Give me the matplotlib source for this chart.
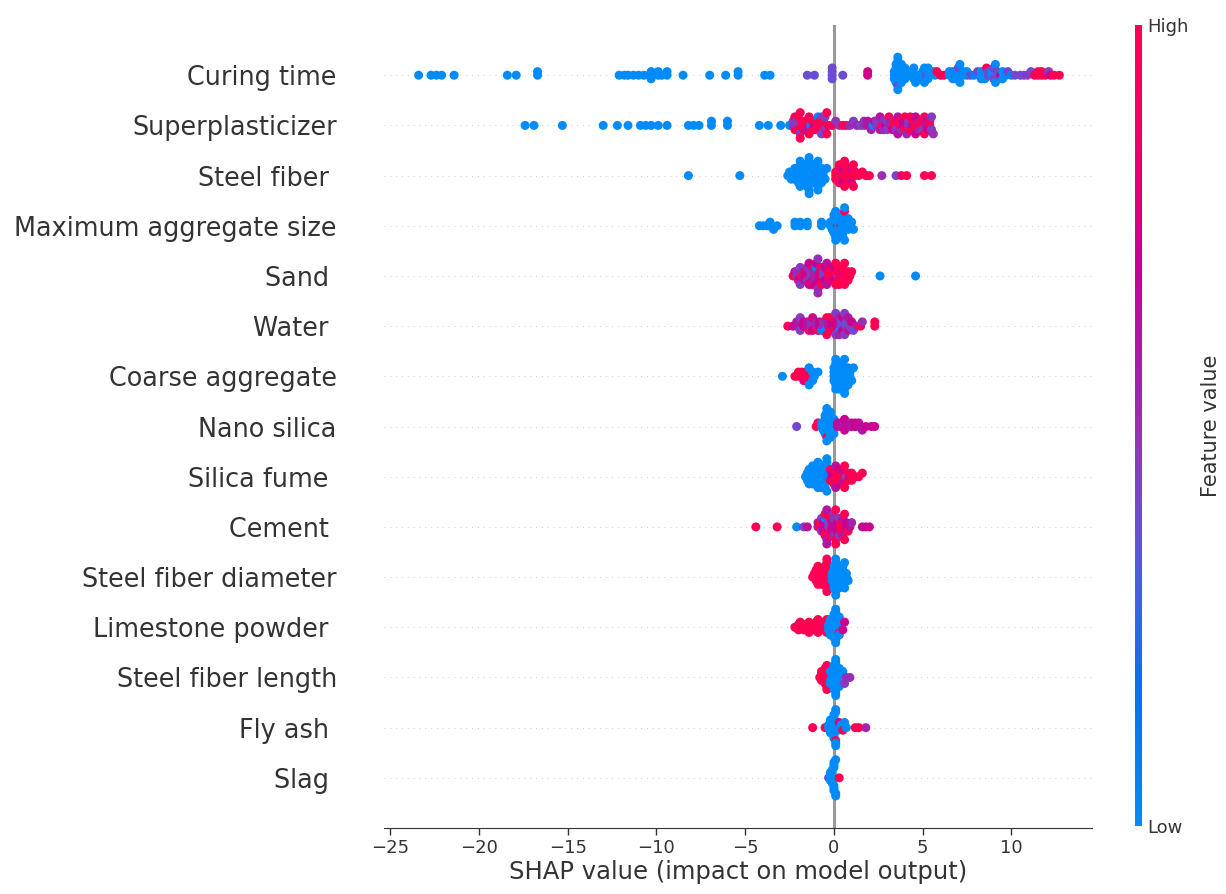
import matplotlib
matplotlib.use("Agg")
import matplotlib.pyplot as plt
import numpy as np
from matplotlib.colors import LinearSegmentedColormap

features = ["Curing time", "Superplasticizer", "Steel fiber ", "Maximum aggregate size",
            "Sand ", "Water ", "Coarse aggregate", "Nano silica", "Silica fume ", "Cement ",
            "Steel fiber diameter", "Limestone powder ", "Steel fiber length", "Fly ash ", "Slag "]

# each entry: (SHAP value, feature value 0=low..1=high, number of samples at that spot)
curing_time = [
    (-23.4, 0, 1), (-22.7, 0, 1), (-22.4, 0, 1), (-22.1, 0, 1), (-21.4, 0, 1),
    (-18.4, 0, 1), (-17.9, 0, 1), (-16.7, 0, 2),
    (-12.1, 0, 1), (-11.8, 0, 1), (-11.6, 0, 1), (-11.3, 0, 1), (-11.0, 0, 1), (-10.7, 0, 1),
    (-10.3, 0, 3), (-9.9, 0, 2), (-9.7, 0, 1), (-9.4, 0, 2), (-8.5, 0, 1),
    (-7.0, 0, 1), (-6.1, 0, 1), (-5.4, 0, 2), (-3.9, 0, 1), (-3.6, 0, 1),
    (-1.5, 0.38, 1), (-1.1, 0.38, 1), (-0.1, 0.38, 4), (0.5, 0.38, 1), (1.9, 0.72, 2),
    (3.4, 0, 3), (3.5, 0, 3), (3.6, 0.38, 1), (3.6, 0, 3), (3.7, 0.38, 1), (3.7, 0, 2),
    (3.8, 0, 3), (3.9, 0, 2), (4.0, 0, 2), (4.3, 0, 2), (4.4, 0, 2), (4.5, 0, 2), (4.6, 0, 1),
    (4.8, 0, 1), (5.0, 0, 3), (5.1, 0, 2), (5.2, 0.38, 1), (5.3, 0, 3), (5.4, 0, 1),
    (5.6, 0, 1), (5.7, 0, 1), (5.8, 1, 1), (6.0, 1, 1), (6.2, 1, 1),
    (6.5, 0, 2), (6.7, 0, 3), (6.9, 0, 3), (7.0, 0.38, 1), (7.1, 0, 2), (7.3, 0, 2), (7.5, 0, 2),
    (7.7, 0.4, 1), (7.9, 0.05, 1), (8.1, 0.4, 1),
    (8.3, 0, 3), (8.5, 0, 3), (8.6, 1, 1), (8.7, 0.4, 2), (8.9, 0, 2), (9.0, 0.4, 2), (9.1, 0, 2),
    (9.2, 0.4, 2), (9.4, 0.7, 1), (9.5, 0, 2), (9.7, 0, 1), (9.8, 0.4, 1), (10.0, 0.05, 1),
    (10.2, 0.4, 1), (10.5, 0.4, 1), (10.7, 0.4, 1), (10.9, 0.45, 1), (11.1, 0.4, 1), (11.3, 0.95, 1),
    (11.5, 1, 2), (11.7, 1, 2), (11.9, 1, 1), (12.1, 0.45, 1), (12.2, 0.75, 1), (12.4, 1, 1), (12.7, 1, 1),
]
superplasticizer = [
    (-17.4, 0, 1), (-16.9, 0, 1), (-15.3, 0, 1), (-13.0, 0, 1), (-12.2, 0, 1), (-11.6, 0, 1),
    (-10.9, 0, 1), (-10.6, 0, 1), (-10.3, 0, 1), (-9.9, 0, 1), (-9.4, 0, 1),
    (-8.2, 0, 1), (-7.9, 0, 1), (-7.6, 0, 1), (-6.9, 0, 2), (-6.0, 0, 2),
    (-4.2, 0, 1), (-3.7, 0, 1), (-3.0, 0, 1), (-2.5, 0, 1),
    (-2.3, 0.45, 2), (-2.2, 1, 2), (-2.1, 0.45, 2), (-2.0, 1, 2), (-1.9, 0.4, 1), (-1.9, 1, 2),
    (-1.8, 1, 2), (-1.7, 0.9, 1), (-1.6, 1, 2), (-1.5, 0.6, 1), (-1.4, 1, 2), (-1.3, 0.05, 1),
    (-1.2, 1, 2), (-1.1, 0.7, 1), (-1.0, 1, 2), (-0.9, 0.05, 1), (-0.8, 1, 3), (-0.7, 0.4, 2),
    (-0.6, 1, 2), (-0.5, 0.45, 2), (-0.4, 1, 2), (-0.3, 0.9, 1), (-0.1, 1, 1),
    (0.1, 0.5, 1), (0.3, 0.45, 1), (0.5, 1, 1), (0.7, 1, 1), (0.9, 0.5, 1), (1.1, 0.45, 1),
    (1.3, 0.55, 1), (1.5, 0.4, 1), (1.7, 0.5, 2),
    (1.9, 0.6, 2), (2.1, 0.55, 1), (2.2, 0.05, 1), (2.3, 0.7, 1), (2.4, 0.45, 2), (2.6, 0.6, 2),
    (2.7, 1, 1), (2.8, 0.5, 2), (2.9, 0.7, 1), (3.0, 0.45, 2), (3.1, 1, 1), (3.2, 0.55, 2),
    (3.3, 0.7, 1), (3.4, 1, 2), (3.5, 0.45, 1), (3.6, 0.6, 2), (3.7, 1, 2), (3.8, 0.5, 1),
    (3.9, 0.7, 2), (4.0, 1, 2), (4.1, 0.55, 1), (4.2, 0.45, 2), (4.3, 1, 2), (4.4, 0.6, 1),
    (4.5, 1, 2), (4.6, 0.7, 2), (4.7, 1, 1), (4.8, 0.55, 2), (4.9, 1, 2), (5.0, 0.45, 1),
    (5.1, 1, 2), (5.2, 0.6, 2), (5.3, 0.7, 1), (5.4, 1, 2), (5.5, 0.45, 2), (5.6, 0.5, 1),
]
steel_fiber = [
    (-8.2, 0, 1), (-5.3, 0, 1),
    (-2.6, 0, 1), (-2.5, 0, 1), (-2.4, 0, 1), (-2.3, 0, 2), (-2.2, 0, 2), (-2.1, 0, 2),
    (-2.0, 0, 3), (-1.9, 0, 3), (-1.8, 0, 3), (-1.7, 0, 3), (-1.6, 0, 4), (-1.5, 0, 3),
    (-1.4, 0, 4), (-1.3, 0, 3), (-1.2, 0, 3), (-1.1, 0, 3), (-1.0, 0, 3), (-0.9, 0, 3),
    (-0.8, 0.35, 1), (-0.8, 0, 2), (-0.7, 0, 2), (-0.6, 0, 2), (-0.5, 0, 1), (-0.4, 0, 1),
    (0.1, 1, 3), (0.2, 1, 3), (0.3, 1, 3), (0.4, 0.4, 1), (0.4, 1, 2), (0.5, 0.7, 2),
    (0.6, 1, 3), (0.7, 1, 2), (0.8, 1, 3), (0.9, 1, 3), (1.0, 0.8, 2), (1.1, 1, 2),
    (1.2, 1, 2), (1.4, 1, 1), (1.6, 1, 1), (1.8, 1, 1), (2.0, 1, 1),
    (2.7, 0.5, 1), (3.5, 0.42, 1), (3.8, 0.9, 1), (4.1, 1, 1), (5.1, 1, 1), (5.5, 1, 1),
]
max_aggregate_size = [
    (-4.2, 0, 1), (-4.0, 0, 1), (-3.8, 0, 1), (-3.6, 0, 2), (-3.4, 0, 1), (-3.2, 0, 1),
    (-2.2, 0, 2), (-1.9, 0, 2), (-1.5, 0, 2), (-0.7, 0, 2),
    (-0.2, 0, 2), (-0.1, 0, 3), (0.0, 0, 3), (0.1, 0, 3), (0.2, 1, 1), (0.2, 0, 3),
    (0.3, 0, 3), (0.4, 1, 1), (0.4, 0, 3), (0.5, 0, 3), (0.6, 1, 1), (0.6, 0, 2),
    (0.7, 0, 2), (0.8, 0, 2), (0.9, 0, 1), (1.0, 0, 1), (1.1, 0, 1),
]
sand = [
    (-2.3, 1, 1), (-2.2, 0.75, 1), (-2.1, 0.5, 2), (-2.0, 0.7, 1), (-1.9, 0.45, 2), (-1.8, 1, 1),
    (-1.7, 0.6, 2), (-1.6, 0.75, 2), (-1.5, 0.5, 2), (-1.4, 0.7, 2), (-1.3, 0.45, 2),
    (-1.2, 0.8, 3), (-1.1, 0.55, 3), (-1.0, 0.05, 1), (-1.0, 0.7, 2), (-0.9, 0.5, 3),
    (-0.8, 0.75, 3), (-0.7, 1, 2), (-0.6, 0.45, 2), (-0.5, 0.7, 2), (-0.4, 0.6, 2),
    (-0.3, 1, 2), (-0.2, 0.8, 2), (-0.1, 1, 2), (0.0, 0.7, 2), (0.1, 1, 2), (0.2, 0.4, 1),
    (0.2, 1, 2), (0.3, 1, 2), (0.4, 0.9, 2), (0.5, 1, 2), (0.6, 1, 2), (0.7, 0.95, 1),
    (0.8, 1, 2), (0.9, 1, 1), (1.0, 1, 1),
    (2.6, 0, 1), (4.6, 0, 1),
]
water = [
    (-2.6, 1, 1), (-2.3, 0.7, 1), (-2.1, 0.6, 2), (-1.9, 0.45, 2), (-1.7, 0.7, 2), (-1.5, 0.6, 2),
    (-1.4, 1, 1), (-1.3, 0.5, 2), (-1.2, 0.75, 2), (-1.0, 0.55, 2), (-0.9, 1, 1), (-0.8, 0.7, 2),
    (-0.7, 0.05, 1), (-0.6, 0.5, 2), (-0.5, 0.05, 1), (-0.4, 1, 2), (-0.3, 0.6, 2), (-0.2, 1, 2),
    (-0.1, 0.7, 2), (0.0, 1, 2), (0.1, 0.45, 2), (0.2, 0.7, 2), (0.3, 0.05, 1), (0.3, 0.55, 2),
    (0.4, 0.4, 2), (0.5, 0.7, 2), (0.6, 0.45, 2), (0.7, 0.4, 2), (0.8, 0.6, 2), (0.9, 0.45, 1),
    (1.0, 0.7, 1), (1.1, 0.4, 1), (1.3, 0.55, 1), (1.5, 1, 1), (1.6, 0.5, 1), (2.3, 1, 2),
]
coarse_aggregate = [
    (-2.9, 0, 1), (-2.2, 1, 1), (-2.0, 1, 2), (-1.8, 1, 2), (-1.7, 0.8, 1), (-1.6, 1, 2),
    (-1.5, 1, 1), (-1.4, 0, 2), (-1.3, 1, 1), (-1.2, 0, 2), (-1.1, 0, 1), (-0.9, 0, 1),
    (0.0, 0, 4), (0.1, 0, 4), (0.2, 0, 4), (0.3, 0, 3), (0.4, 0, 3), (0.5, 0, 3),
    (0.6, 0, 3), (0.7, 0, 3), (0.8, 0, 2), (0.9, 0, 2), (1.0, 0, 1), (1.1, 0, 1),
]
nano_silica = [
    (-2.1, 0.4, 1), (-1.0, 1, 1), (-0.9, 1, 1), (-0.7, 0, 2), (-0.6, 0, 3), (-0.5, 0, 3),
    (-0.4, 1, 1), (-0.4, 0, 3), (-0.3, 0, 4), (-0.2, 0, 4), (-0.1, 0, 3), (0.0, 0, 2),
    (0.2, 0.65, 2), (0.4, 0.6, 2), (0.6, 0.7, 2), (0.8, 0.65, 2), (1.0, 0.6, 2), (1.2, 0.7, 2),
    (1.4, 0.65, 2), (1.6, 0.6, 1), (1.8, 0.7, 1), (2.1, 0.65, 1), (2.3, 0.7, 1),
]
silica_fume = [
    (-1.6, 0, 1), (-1.5, 0, 2), (-1.4, 0, 2), (-1.3, 0, 3), (-1.2, 0, 3), (-1.1, 0, 2),
    (-1.0, 0, 3), (-0.9, 0, 3), (-0.8, 0, 3), (-0.7, 0, 4), (-0.6, 0, 4), (-0.5, 0, 3),
    (-0.4, 0, 3), (-0.3, 0.05, 2), (-0.2, 1, 2), (-0.1, 0.7, 2), (0.0, 1, 3), (0.1, 0.6, 2),
    (0.2, 1, 3), (0.3, 0.75, 2), (0.4, 1, 3), (0.5, 0.65, 2), (0.6, 1, 2), (0.7, 0.4, 1),
    (0.8, 1, 2), (0.9, 0.75, 1), (1.0, 1, 2), (1.2, 1, 1), (1.4, 1, 1), (1.6, 1, 1),
]
cement = [
    (-4.4, 1, 1), (-3.2, 1, 1), (-2.1, 0, 1), (-1.7, 0.4, 1), (-1.5, 0.65, 1),
    (-0.9, 0.6, 2), (-0.8, 1, 2), (-0.7, 0.45, 2), (-0.6, 0.7, 3), (-0.5, 0.05, 1), (-0.5, 1, 2),
    (-0.4, 0.6, 3), (-0.3, 0.4, 2), (-0.2, 1, 3), (-0.1, 0.65, 3), (0.0, 0.5, 3), (0.1, 1, 3),
    (0.2, 0.7, 3), (0.3, 0.45, 2), (0.4, 1, 3), (0.5, 0.6, 2), (0.6, 1, 2), (0.7, 0.7, 2),
    (0.8, 1, 1), (0.9, 0.65, 1), (1.0, 0.55, 1), (1.6, 0.65, 1), (1.8, 0.7, 1), (2.0, 0.65, 1),
]
steel_fiber_diameter = [
    (-1.2, 1, 1), (-1.1, 1, 2), (-1.0, 1, 2), (-0.9, 1, 2), (-0.8, 1, 2), (-0.7, 1, 3),
    (-0.6, 1, 3), (-0.5, 1, 3), (-0.4, 1, 4), (-0.3, 1, 3), (-0.2, 1, 2), (-0.1, 0, 3),
    (0.0, 0, 4), (0.1, 0, 4), (0.2, 0, 4), (0.3, 0, 3), (0.4, 0, 3), (0.5, 0, 3),
    (0.6, 0, 2), (0.7, 0, 2), (0.8, 0, 1),
]
limestone_powder = [
    (-2.2, 1, 1), (-2.1, 1, 1), (-2.0, 1, 2), (-1.9, 1, 1), (-1.8, 1, 2), (-1.7, 1, 1),
    (-1.6, 1, 2), (-1.5, 1, 1), (-1.4, 1, 2), (-1.3, 1, 1), (-1.2, 1, 2), (-1.1, 1, 2),
    (-1.0, 1, 2), (-0.9, 1, 2), (-0.8, 1, 2), (-0.7, 1, 2), (-0.6, 1, 2), (-0.5, 1, 2),
    (-0.4, 1, 2), (-0.3, 0, 3), (-0.2, 0, 4), (-0.1, 0, 5), (0.0, 0, 5), (0.1, 0, 4),
    (0.2, 0, 4), (0.3, 1, 1), (0.3, 0, 3), (0.4, 0, 2), (0.5, 0.7, 1), (0.6, 0.7, 1),
]
steel_fiber_length = [
    (-0.8, 1, 1), (-0.7, 1, 3), (-0.6, 1, 3), (-0.5, 1, 3), (-0.4, 1, 3), (-0.3, 1, 2),
    (-0.2, 0, 3), (-0.1, 0, 4), (0.0, 0, 5), (0.1, 0, 4), (0.2, 0, 4), (0.3, 0, 3),
    (0.4, 0, 2), (0.5, 0, 2), (0.6, 0.45, 1), (0.7, 0.5, 1), (0.9, 0.5, 1),
]
fly_ash = [
    (-1.2, 1, 1), (-0.5, 1, 1), (-0.3, 0, 2), (-0.2, 0, 4), (-0.1, 0, 5), (0.0, 0, 5),
    (0.1, 1, 1), (0.1, 0, 4), (0.2, 0, 3), (0.3, 0.8, 1), (0.4, 0, 2), (0.5, 1, 1),
    (0.6, 0, 1), (0.7, 0, 1), (1.2, 1, 1), (1.4, 1, 1), (1.8, 0.55, 1),
]
slag = [
    (-0.3, 0.4, 1), (-0.2, 0, 3), (-0.1, 0, 6), (0.0, 0, 6), (0.1, 0, 3), (0.3, 1, 1),
]

rows = [curing_time, superplasticizer, steel_fiber, max_aggregate_size, sand, water,
        coarse_aggregate, nano_silica, silica_fume, cement, steel_fiber_diameter,
        limestone_powder, steel_fiber_length, fly_ash, slag]

xticks = [-25, -20, -15, -10, -5, 0, 5, 10]

cmap = LinearSegmentedColormap.from_list("shap_red_blue", [
    (0.0, "#008bfa"), (0.18, "#0570f0"), (0.27, "#3a64e8"), (0.36, "#6351d8"),
    (0.46, "#8a3ac0"), (0.56, "#a81fa8"), (0.7, "#cc0090"), (0.85, "#e8006c"),
    (1.0, "#ff0052")])


def swarm(vals, bin_w=0.25, step=0.085, cap=0.36):
    # same stacking idea as shap's beeswarm: points in one bin alternate up/down
    quant = np.round(vals / bin_w)
    order = np.argsort(quant, kind="stable")
    ys = np.zeros(len(vals))
    layer = 0
    last = None
    for i in order:
        if quant[i] != last:
            layer = 0
        ys[i] = np.ceil(layer / 2) * ((layer % 2) * 2 - 1)
        layer += 1
        last = quant[i]
    top = np.abs(ys).max()
    if top > 0:
        step = min(step, cap / top)
    return ys * step


fig = plt.figure(figsize=(12.26, 8.94), dpi=100)
ax = fig.add_axes([0.3132, 0.0738, 0.5775, 0.8982])
axis_color = "#333333"

n = len(features)
for k, data in enumerate(rows):
    pos = n - 1 - k
    arr = np.array(data, dtype=float)
    vals = np.repeat(arr[:, 0], arr[:, 2].astype(int))
    fv = np.repeat(arr[:, 1], arr[:, 2].astype(int))
    ax.axhline(y=pos, color="#cccccc", lw=0.7, dashes=(1, 5), zorder=-1)
    ys = swarm(vals)
    ax.scatter(vals, pos + ys, c=fv, cmap=cmap, vmin=0, vmax=1, s=42,
               linewidth=0, zorder=3)

ax.axvline(x=0, color="#999999", lw=2.2, zorder=-1)

ax.set_xlim(-25.35, 14.54)
ax.set_ylim(-1, n)
ax.set_yticks(range(n))
ax.set_yticklabels(features[::-1], fontsize=18.4, color=axis_color)
ax.tick_params(axis="y", length=0, pad=34)
ax.set_xticks(xticks)
ax.set_xticklabels([str(t).replace("-", "\u2212") for t in xticks], fontsize=13)
ax.tick_params(axis="x", colors=axis_color, length=5, width=1, pad=3)
ax.set_xlabel("SHAP value (impact on model output)", fontsize=17.5, color=axis_color,
              labelpad=2)
for side in ["top", "right", "left"]:
    ax.spines[side].set_visible(False)
ax.spines["bottom"].set_color(axis_color)

cax = fig.add_axes([0.9258, 0.076, 0.0057, 0.896])
sm = plt.cm.ScalarMappable(cmap=cmap, norm=plt.Normalize(0, 1))
cb = fig.colorbar(sm, cax=cax, ticks=[0, 1])
cb.set_ticklabels(["Low", "High"])
cb.ax.tick_params(labelsize=13, length=0, colors=axis_color)
cb.set_label("Feature value", size=15, labelpad=9, color=axis_color)
cb.outline.set_visible(False)

fig.savefig("out.png", dpi=100)
